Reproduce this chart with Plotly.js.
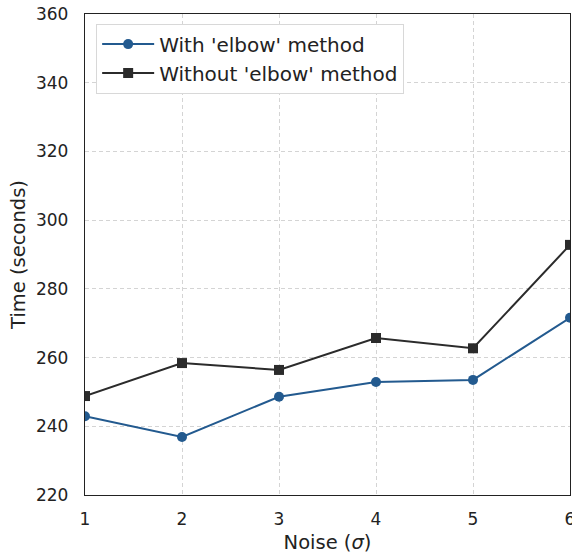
<!DOCTYPE html>
<html>
<head>
<meta charset="utf-8">
<script src="https://cdn.plot.ly/plotly-3.0.1.min.js"></script>
<style>
  html, body { margin: 0; padding: 0; background: #ffffff; }
  #chart { width: 572px; height: 558px; }
</style>
</head>
<body>
<div id="chart"></div>
<script>
// Noise level (sigma) on the x axis
const noiseLevels = [1, 2, 3, 4, 5, 6];
// Run time in seconds for each configuration
const timeWithElbow = [242.9, 236.9, 248.6, 252.9, 253.5, 271.6];
const timeWithoutElbow = [248.8, 258.4, 256.4, 265.7, 262.7, 292.8];
const seriesNames = ["With 'elbow' method", "Without 'elbow' method"];

const fontFamily = "DejaVu Sans, sans-serif";

const traces = [
  {
    x: noiseLevels, y: timeWithElbow, name: seriesNames[0],
    type: 'scatter', mode: 'lines+markers',
    line: { color: '#235a8f', width: 2 },
    marker: { symbol: 'circle', size: 10, color: '#235a8f' }
  },
  {
    x: noiseLevels, y: timeWithoutElbow, name: seriesNames[1],
    type: 'scatter', mode: 'lines+markers',
    line: { color: '#2b2b2b', width: 2 },
    marker: { symbol: 'square', size: 10, color: '#2b2b2b' }
  }
];

const axisCommon = {
  showline: true, mirror: true, linecolor: '#222222', linewidth: 1.2,
  showgrid: true, gridcolor: '#d4d4d4', griddash: '4px,3px', gridwidth: 1,
  zeroline: false, ticks: '', ticklabeloverflow: 'allow',
  tickfont: { family: fontFamily, size: 17, color: '#222222' }
};

const layout = {
  width: 572, height: 558,
  margin: { l: 85, r: 2, t: 14, b: 63 },
  paper_bgcolor: '#ffffff', plot_bgcolor: '#ffffff',
  font: { family: fontFamily, color: '#222222' },
  showlegend: true,
  legend: {
    x: 0.023, y: 0.98, xanchor: 'left', yanchor: 'top',
    bgcolor: '#ffffff', bordercolor: '#d8d8d8', borderwidth: 1,
    font: { family: fontFamily, size: 20, color: '#222222' },
    itemwidth: 52
  },
  xaxis: Object.assign({}, axisCommon, {
    range: [1, 6], dtick: 1, tick0: 1, ticklabelstandoff: 8,
    title: { text: 'Noise (<i>σ</i>)', font: { family: fontFamily, size: 19.5, color: '#222222' }, standoff: 7 }
  }),
  yaxis: Object.assign({}, axisCommon, {
    range: [220, 360], dtick: 20, tick0: 220, ticklabelstandoff: 12,
    title: { text: 'Time (seconds)', font: { family: fontFamily, size: 19.5, color: '#222222' }, standoff: 5 }
  })
};

Plotly.newPlot('chart', traces, layout, { displayModeBar: false, staticPlot: true });
</script>
</body>
</html>
